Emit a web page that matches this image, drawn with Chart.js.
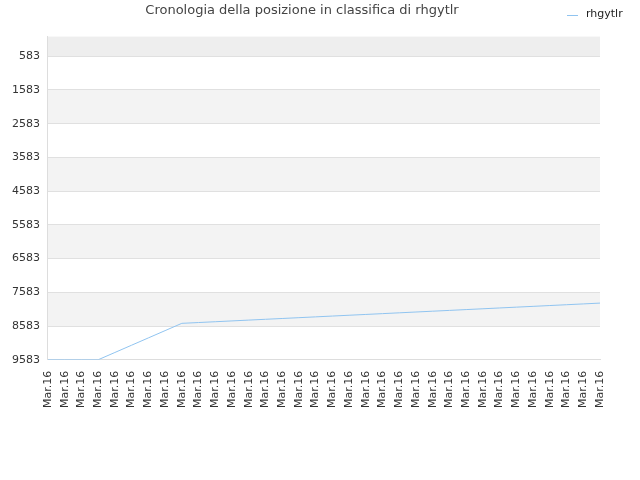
<!DOCTYPE html>
<html><head><meta charset="utf-8">
<script src="https://cdn.jsdelivr.net/npm/chart.js@4"></script>
<style>body{margin:0;background:#fff}#wrap{width:640px;height:480px}</style>
</head><body><div id="wrap"><canvas id="chart"></canvas></div>
<script>
const labels = Array(34).fill('Mar.16');
const ranks = [9583, 9583, 9583, 9583, 9367, 9151, 8935, 8719, 8503, 8479, 8455, 8431,
  8407, 8383, 8359, 8335, 8311, 8287, 8263, 8239, 8215, 8191, 8167, 8143,
  8119, 8095, 8071, 8047, 8023, 7999, 7975, 7951, 7927, 7903];
const yTicks = [583, 1583, 2583, 3583, 4583, 5583, 6583, 7583, 8583, 9583];
const seriesName = 'rhgytlr';
const lineColor = '#90c4f0';

const bands = {
  id: 'bands',
  beforeDraw: (chart) => {
    const { ctx, chartArea: a, scales: { y } } = chart;
    ctx.save();
    ctx.fillStyle = '#eeeeee';
    ctx.fillRect(a.left, a.top, a.right - a.left, y.getPixelForValue(583) - a.top);
    for (let i = 0; i < yTicks.length - 1; i++) {
      if (i % 2 === 1) {
        const t = y.getPixelForValue(yTicks[i]);
        const b = y.getPixelForValue(yTicks[i + 1]);
        ctx.fillStyle = '#f3f3f3';
        ctx.fillRect(a.left, t, a.right - a.left, b - t);
      }
    }
    ctx.restore();
  },
  afterDraw: (chart) => {
    // legend sits on the title row, top right
    const ctx = chart.ctx;
    ctx.save();
    ctx.strokeStyle = lineColor;
    ctx.lineWidth = 1;
    ctx.beginPath();
    ctx.moveTo(567, 15.5);
    ctx.lineTo(578, 15.5);
    ctx.stroke();
    ctx.fillStyle = '#222';
    ctx.font = '11px "DejaVu Sans"';
    ctx.textBaseline = 'middle';
    ctx.fillText(seriesName, 586, 14);
    ctx.restore();
  },
};

new Chart('chart', {
  type: 'line',
  data: {
    labels: labels,
    datasets: [{
      label: seriesName,
      data: ranks,
      borderColor: lineColor,
      backgroundColor: lineColor,
      borderWidth: 1,
      pointRadius: 0,
      tension: 0,
    }],
  },
  options: {
    responsive: true,
    maintainAspectRatio: false,
    animation: false,
    layout: { padding: { left: 4, right: 40, top: 0, bottom: 69 } },
    plugins: {
      title: {
        display: true,
        text: 'Cronologia della posizione in classifica di rhgytlr',
        color: '#444',
        font: { family: 'DejaVu Sans', size: 13, weight: 'normal' },
        padding: { top: 3, bottom: 18 },
      },
      legend: { display: false },
      tooltip: { enabled: false },
    },
    scales: {
      y: {
        reverse: true,
        min: 0,
        max: 9583,
        afterBuildTicks: (s) => { s.ticks = yTicks.map((v) => ({ value: v })); },
        grid: { color: '#e0e0e0', drawTicks: false },
        border: { color: '#ddd' },
        ticks: {
          color: '#333', padding: 8, font: { family: 'DejaVu Sans', size: 11 },
          callback: (v) => String(v),
        },
      },
      x: {
        grid: { display: false },
        border: { color: '#ddd' },
        ticks: {
          color: '#333', minRotation: 90, maxRotation: 90, autoSkip: false,
          font: { family: 'DejaVu Sans', size: 11 },
        },
      },
    },
  },
  plugins: [bands],
});
</script></body></html>
